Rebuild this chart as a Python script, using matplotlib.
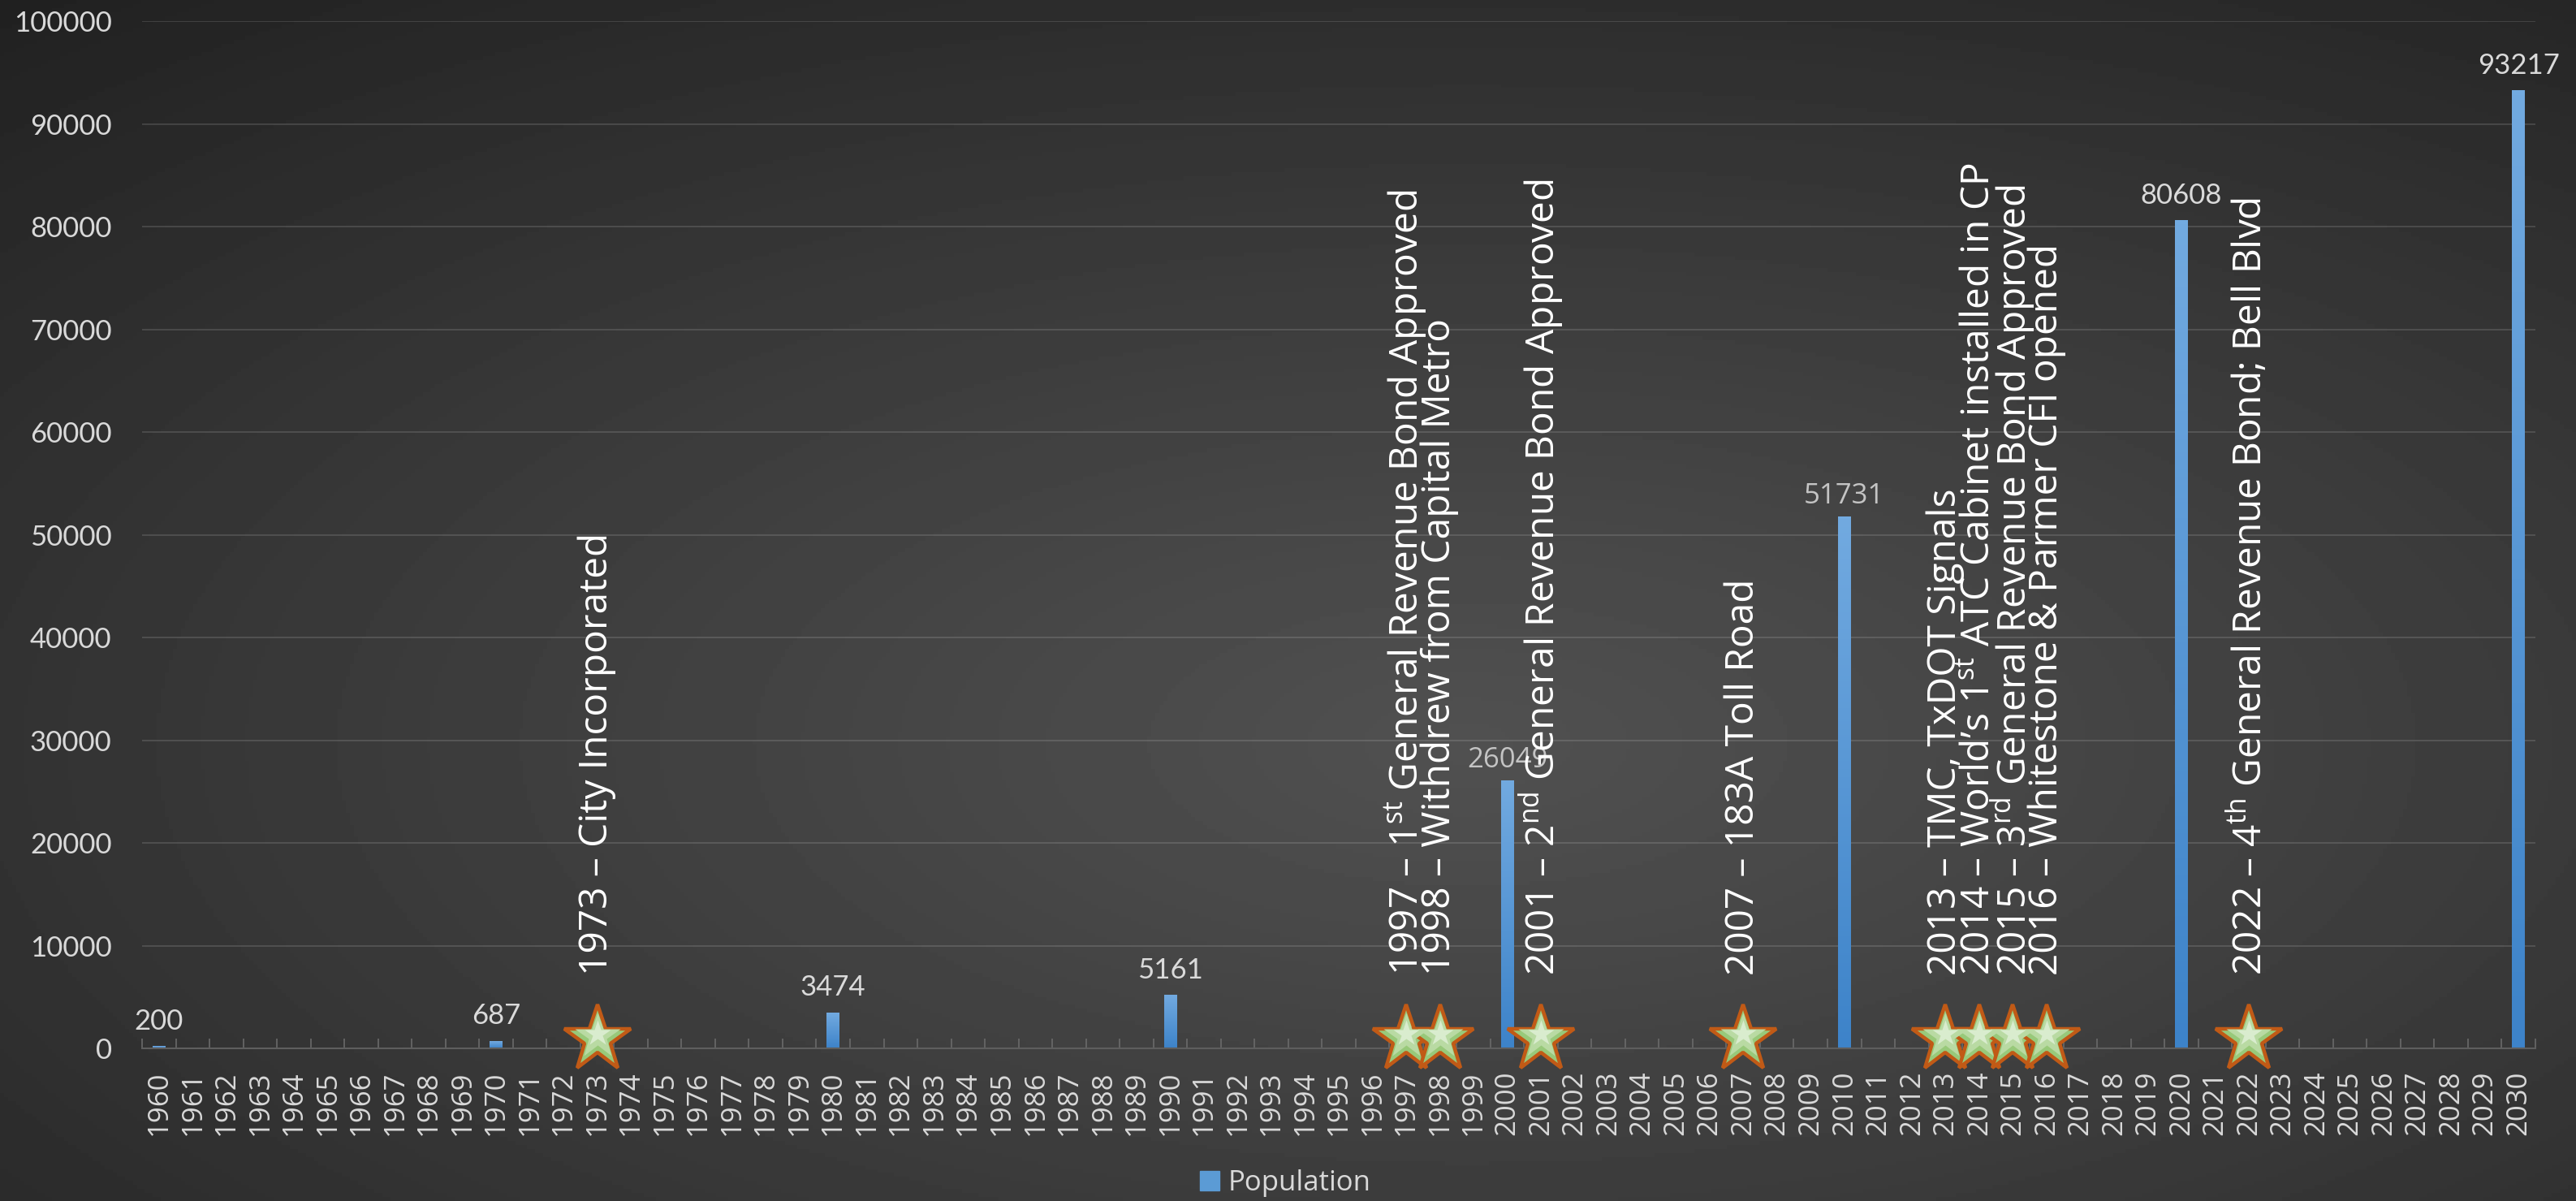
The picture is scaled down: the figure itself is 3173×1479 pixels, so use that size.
import numpy as np
import matplotlib
matplotlib.use("Agg")
import matplotlib.pyplot as plt
from matplotlib.colors import LinearSegmentedColormap
from matplotlib.patches import Patch


# data

years = list(range(1960, 2031))

census_years = [1960, 1970, 1980, 1990, 2000, 2010, 2020, 2030]
population = [200, 687, 3474, 5161, 26049, 51731, 80608, 93217]

milestone_years = [1973, 1997, 1998, 2001, 2007, 2013, 2014, 2015, 2016, 2022]
milestone_text = [
    "1973 – City Incorporated",
    "1997 – 1$^{\\mathrm{st}}$ General Revenue Bond Approved",
    "1998 – Withdrew from Capital Metro",
    "2001 – 2$^{\\mathrm{nd}}$ General Revenue Bond Approved",
    "2007 – 183A Toll Road",
    "2013 – TMC, TxDOT Signals",
    "2014 – World’s 1$^{\\mathrm{st}}$ ATC Cabinet installed in CP",
    "2015 – 3$^{\\mathrm{rd}}$ General Revenue Bond Approved",
    "2016 – Whitestone & Parmer CFI opened",
    "2022 – 4$^{\\mathrm{th}}$ General Revenue Bond; Bell Blvd",
]

y_ticks = list(range(0, 100001, 10000))


plt.rcParams['font.family'] = ['Open Sans', 'DejaVu Sans']
plt.rcParams['mathtext.fontset'] = 'custom'
plt.rcParams['mathtext.rm'] = 'Open Sans'
plt.rcParams['mathtext.it'] = 'Open Sans:italic'
plt.rcParams['mathtext.bf'] = 'Open Sans:bold'

fig = plt.figure(figsize=(31.73, 14.79), dpi=100)

# dark radial background
bg = fig.add_axes([0, 0, 1, 1])
gx, gy = np.meshgrid(np.linspace(0, 1, 640), np.linspace(1, 0, 300))
d = np.sqrt((gx - 0.57) ** 2 + ((gy - 0.38) / 0.95) ** 2)
shade = 0.315 - 0.185 * np.clip(d / 0.86, 0, 1.2) ** 1.1
bg.imshow(shade, extent=[0, 1, 0, 1], aspect='auto', cmap='gray', vmin=0, vmax=1)
bg.axis('off')

ax = fig.add_axes([0.0552, 0.1271, 0.9290, 0.8553])
ax.set_facecolor('none')

# bars with a light-to-dark blue gradient
pos = [y - years[0] for y in census_years]
bars = ax.bar(pos, population, width=0.38, color='#5b9bd5', zorder=2)
blue = LinearSegmentedColormap.from_list('blue', ['#3d83c9', '#72aae0'])
grad = np.linspace(1, 0, 200).reshape(-1, 1)
for b in bars:
    ax.imshow(grad, extent=[b.get_x(), b.get_x() + b.get_width(), 0, b.get_height()],
              aspect='auto', cmap=blue, zorder=2.1)

# value labels
for p, v, yr in zip(pos, population, census_years):
    if yr in (2000, 2010):
        ax.annotate(str(v), (p, v), xytext=(0, 12), textcoords='offset points',
                    ha='center', va='baseline', fontsize=25, color='#c4c4c4',
                    fontfamily='Open Sans', zorder=3)
    else:
        ax.annotate(str(v), (p, v), xytext=(0, 15), textcoords='offset points',
                    ha='center', va='baseline', fontsize=25, color='#dadada',
                    fontfamily='Lato', zorder=3)

# milestone stars (layered for a top-lit green fill)
mpos = [y - years[0] for y in milestone_years]
ax.plot(mpos, [870] * len(mpos), ls='none', marker='*', ms=62, mfc='#98c97a',
        mec='#c15a16', mew=3.2, clip_on=False, zorder=4)
ax.plot(mpos, [1150] * len(mpos), ls='none', marker='*', ms=42, mfc='#b9daa3',
        mec='none', clip_on=False, zorder=4.1)
ax.plot(mpos, [1400] * len(mpos), ls='none', marker='*', ms=24, mfc='#d9ecce',
        mec='none', clip_on=False, zorder=4.2)

# milestone captions
for p, t in zip(mpos, milestone_text):
    ax.text(p, 7100, t, rotation=90, rotation_mode='anchor', ha='left', va='center',
            fontsize=34.5, color='white', zorder=5)

ax.set_xlim(-0.5, len(years) - 0.5)
ax.set_ylim(0, 100000)

ax.set_xticks(range(len(years)))
ax.set_xticklabels([str(y) for y in years], rotation=90, fontsize=25, color='#d9d9d9')
ax.tick_params(axis='x', which='major', length=0, pad=20)
ax.set_xticks(np.arange(-0.5, len(years), 1), minor=True)
ax.tick_params(axis='x', which='minor', direction='in', length=9, width=1.2, color='#6a6a6a')

ax.set_yticks(y_ticks)
ax.set_yticklabels([str(v) for v in y_ticks], fontsize=25, color='#d9d9d9')
for lbl in ax.get_yticklabels():
    lbl.set_fontfamily('Lato')
ax.tick_params(axis='y', length=0, pad=27)

ax.grid(axis='y', color='white', alpha=0.13, linewidth=1.5)
ax.set_axisbelow(True)
for s in ['top', 'right', 'left']:
    ax.spines[s].set_visible(False)
ax.spines['bottom'].set_color('#5e5e5e')
ax.spines['bottom'].set_linewidth(1.5)

fig.legend(handles=[Patch(color='#5b9bd5', label='Population')], loc='center',
           bbox_to_anchor=(0.499, 0.015), frameon=False, fontsize=25,
           labelcolor='#d9d9d9', handlelength=0.7, handleheight=0.7, handletextpad=0.3)

fig.savefig('out.png', dpi=100)
